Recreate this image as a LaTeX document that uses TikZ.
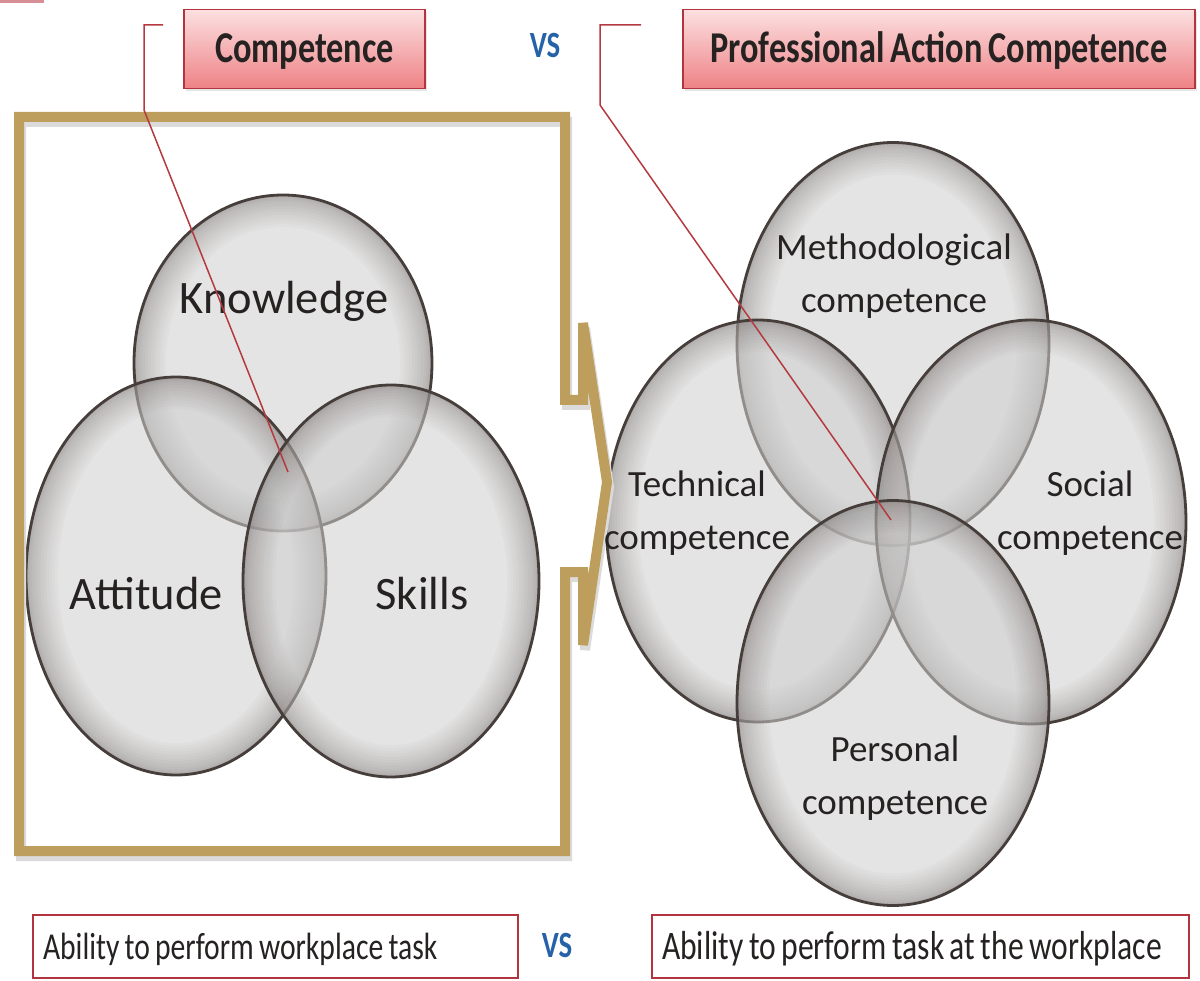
\documentclass[tikz,border=0pt]{standalone}
\usepackage{fontspec}
\setmainfont{Carlito}
\newfontfamily\narrowfont[FakeStretch=0.78, WordSpace=0.78]{Carlito}
\usetikzlibrary{shapes.geometric,shadows,calc}

\definecolor{framegold}{RGB}{189,158,92}
\definecolor{boxred}{RGB}{178,52,62}
\definecolor{pinktop}{RGB}{252,224,224}
\definecolor{pinkbot}{RGB}{238,130,134}
\definecolor{vsblue}{RGB}{38,98,168}
\definecolor{ringin}{RGB}{206,206,206}
\definecolor{ringout}{RGB}{100,90,86}
\definecolor{ringline}{RGB}{70,62,58}
\definecolor{calloutred}{RGB}{180,58,64}
\definecolor{inktext}{RGB}{38,34,34}

\tikzset{
  ring/.style={ellipse, draw=ringline, line width=2.8pt, fill=ringin, fill opacity=0.55,
    inner sep=0pt,
    path picture={
      \foreach \w/\o in {64/0.03, 58/0.03, 52/0.03, 46/0.03, 40/0.035, 34/0.035, 28/0.04,
                         22/0.04, 16/0.045, 11/0.05, 7/0.05, 4/0.06}
        \draw[ringout, line width=\w pt, draw opacity=\o]
          let \p1=(path picture bounding box.north east),
              \p2=(path picture bounding box.center) in
          (\p2) ellipse [x radius={\x1-\x2}, y radius={\y1-\y2}];
    }},
  ringlabel/.style={font=\fontsize{37}{53}\selectfont, text=inktext, align=center, inner sep=0pt},
  biglabel/.style={font=\fontsize{46.5}{50}\selectfont, text=inktext, anchor=base, inner sep=0pt},
  titlebox/.style={draw=boxred, line width=1.2pt, top color=pinktop, bottom color=pinkbot,
    font=\narrowfont\bfseries\fontsize{44}{48}\selectfont, text=inktext,
    text height=28pt, text depth=0pt, minimum height=79pt, inner sep=0pt,
    drop shadow={opacity=0.2, shadow xshift=2pt, shadow yshift=-3pt}},
  taskbox/.style={draw=boxred, line width=2.5pt, fill=white,
    font=\narrowfont\fontsize{38}{42}\selectfont, text=inktext, align=flush left,
    inner xsep=10pt, inner ysep=0pt, text height=25pt, text depth=0pt, minimum height=63pt},
  vstext/.style={font=\narrowfont\bfseries\fontsize{37}{40}\selectfont, text=vsblue,
    anchor=base, inner sep=0pt},
  frameline/.style={line width=10pt, line join=miter},
  callout/.style={draw=calloutred, line width=1.5pt}
}

\begin{document}
\begin{tikzpicture}[x=1pt, y=-1pt]
  \useasboundingbox (0,0) rectangle (1200,981);
  \fill[boxred!55] (0,0) rectangle (44,3);

  % left venn
  \node[ring, minimum width=298pt, minimum height=336pt] (know) at (283,363) {};
  \node[ring, minimum width=300pt, minimum height=398pt] (att) at (176,576) {};
  \node[ring, minimum width=296pt, minimum height=392pt] (skill) at (391,581) {};

  % right venn
  \node[ring, minimum width=312pt, minimum height=403pt] (meth) at (893,344) {};
  \node[ring, minimum width=304pt, minimum height=402pt] (tech) at (758,521) {};
  \node[ring, minimum width=310pt, minimum height=404pt] (soc) at (1031,522) {};
  \node[ring, minimum width=312pt, minimum height=405pt] (pers) at (893,703) {};

  % gold frame with arrow notch
  \draw[frameline, draw=black!14, xshift=2pt, yshift=-5pt]
    (19,117) -- (565,117) -- (565,400) -- (583,400) -- (583,323) -- (607,482)
    -- (583,645) -- (583,572) -- (565,572) -- (565,851) -- (19,851) -- cycle;
  \draw[frameline, draw=framegold]
    (19,117) -- (565,117) -- (565,400) -- (583,400) -- (583,323) -- (607,482)
    -- (583,645) -- (583,572) -- (565,572) -- (565,851) -- (19,851) -- cycle;

  \node[biglabel] (knowlab) at (284,314) {Knowledge};
  \node[biglabel] (attlab) at (146,609) {Attitude};
  \node[biglabel] (skilllab) at (422,609) {Skills};

  \node[ringlabel] (methlab) at (894,276) {Methodological\\competence};
  \node[ringlabel] (techlab) at (697,513) {Technical\\competence};
  \node[ringlabel] (soclab) at (1090,513) {Social\\competence};
  \node[ringlabel] (perslab) at (895,778) {Personal\\competence};

  % titles
  \node[titlebox, minimum width=241pt] (comp) at (304.5,49) {Competence};
  \node[titlebox, minimum width=512pt] (prof) at (939,49) {Professional Action Competence};
  \node[vstext] (vstop) at (545,58) {VS};

  % bottom line
  \node[taskbox, text width=465pt] (taskl) at (275.5,946.5) {Ability to perform workplace task};
  \node[taskbox, text width=517pt, font=\narrowfont\fontsize{40.5}{44}\selectfont]
    (taskr) at (920.5,946.5) {Ability to perform task at the workplace};
  \node[vstext] (vsbot) at (557,957) {VS};

  % callouts
  \coordinate (kbr) at (163,25);
  \coordinate (kturn) at (144,25);
  \coordinate (kdown) at (144,110);
  \coordinate (kend) at (288,472);
  \coordinate (pbr) at (641,25);
  \coordinate (pturn) at (600,25);
  \coordinate (pdown) at (600,105);
  \coordinate (pend) at (891,520);
  \draw[callout] (kbr) -- (kturn) -- (kdown) -- (kend);
  \draw[callout] (pbr) -- (pturn) -- (pdown) -- (pend);
\end{tikzpicture}
\end{document}
